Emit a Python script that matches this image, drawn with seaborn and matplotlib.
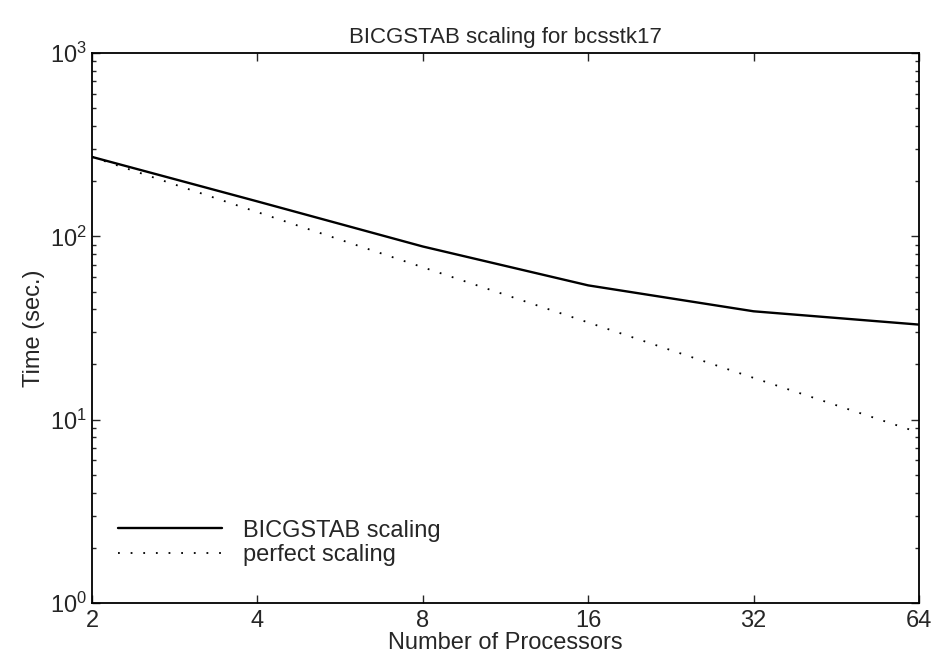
import matplotlib
matplotlib.use("Agg")
import matplotlib.pyplot as plt
from matplotlib.ticker import NullLocator, FixedLocator, FixedFormatter
import seaborn as sns
import pandas as pd

# data
processors = [2, 4, 8, 16, 32, 64]
bicgstab_time = [271, 155, 88, 54, 39, 33]
perfect_time = [271, 135.5, 67.8, 33.9, 16.9, 8.5]

df = pd.DataFrame({
    "processors": processors * 2,
    "time": bicgstab_time + perfect_time,
    "series": ["BICGSTAB scaling"] * 6 + ["perfect scaling"] * 6,
})

sns.set_style("ticks")
plt.rcParams["font.family"] = ["Liberation Sans", "DejaVu Sans"]
plt.rcParams["mathtext.default"] = "regular"

fig = plt.figure(figsize=(9.38, 6.68), dpi=100)
ax = fig.add_axes([0.0981, 0.0973, 0.8816, 0.8234])

sns.lineplot(data=df[df.series == "BICGSTAB scaling"], x="processors", y="time",
             color="black", linewidth=1.7, ax=ax, label="BICGSTAB scaling")
sns.lineplot(data=df[df.series == "perfect scaling"], x="processors", y="time",
             color="black", linewidth=1.3, linestyle=(0, (1, 6)), ax=ax,
             label="perfect scaling")

ax.set_xscale("log", base=2)
ax.set_yscale("log")
ax.set_xlim(2, 64)
ax.set_ylim(1, 1000)
ax.xaxis.set_major_locator(FixedLocator(processors))
ax.xaxis.set_major_formatter(FixedFormatter([str(p) for p in processors]))
ax.xaxis.set_minor_locator(NullLocator())

ax.tick_params(which="both", direction="in", top=True, right=True, labelsize=17)
ax.tick_params(which="major", length=6, width=1)
ax.tick_params(which="minor", length=3, width=1)
ax.tick_params(axis="x", pad=5)
for s in ax.spines.values():
    s.set_linewidth(1.3)
    s.set_color("black")

ax.set_title("BICGSTAB scaling for bcsstk17", fontsize=16, pad=7)
ax.set_xlabel("Number of Processors", fontsize=17, labelpad=0)
ax.set_ylabel("Time (sec.)", fontsize=17, labelpad=4)

ax.legend(loc="lower left", bbox_to_anchor=(0.02, 0.05), borderaxespad=0,
          frameon=False, fontsize=17, handlelength=4.4, handletextpad=0.9,
          labelspacing=0.1)

fig.savefig("out.png", dpi=100)
